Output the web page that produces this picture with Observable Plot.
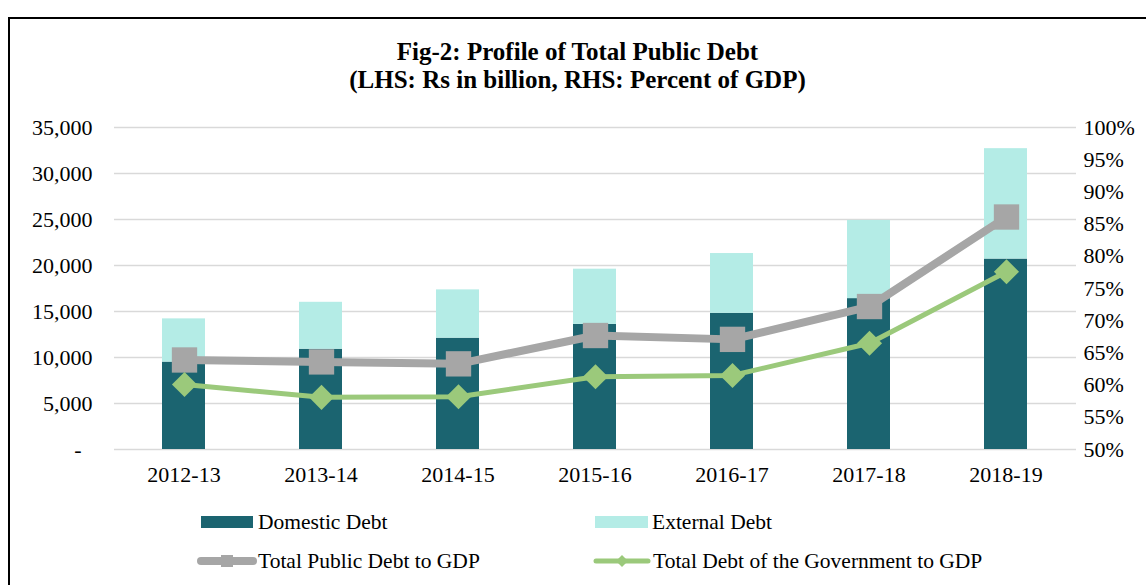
<!DOCTYPE html>
<html><head><meta charset="utf-8">
<script src="https://cdn.jsdelivr.net/npm/d3@7"></script>
<script src="https://cdn.jsdelivr.net/npm/@observablehq/plot@0.6"></script>
<style>
body{margin:0;background:#fff;}
#wrap{position:relative;width:1146px;height:585px;overflow:hidden;font-family:"Liberation Serif","Times New Roman",serif;color:#000;}
#frame{position:absolute;left:8px;top:17px;right:-10px;bottom:-10px;border-left:2px solid #000;border-top:2px solid #000;}
#title{position:absolute;left:9px;right:0;top:38px;text-align:center;font-weight:bold;font-size:25px;line-height:28px;}
.layer{position:absolute;left:0;top:0;}
.leg{position:absolute;font-size:21.5px;display:flex;align-items:center;height:30px;white-space:nowrap;}
.leg svg{display:block;}
</style></head>
<body><div id="wrap">
<div id="frame"></div>
<div id="title">Fig-2: Profile of Total Public Debt<br>(LHS: Rs in billion, RHS: Percent of GDP)</div>
<div id="p1" class="layer"></div>
<div id="p2" class="layer"></div>
<div class="leg" style="left:201px;top:507px"><svg width="52" height="12"><rect width="52" height="12" fill="#1b6470"/></svg><span style="margin-left:5px">Domestic Debt</span></div>
<div class="leg" style="left:595px;top:507px"><svg width="53" height="12"><rect width="53" height="12" fill="#b4ece6"/></svg><span style="margin-left:4px">External Debt</span></div>
<div class="leg" style="left:197px;top:546px"><svg width="60" height="14"><line x1="4" x2="56" y1="7" y2="7" stroke="#a6a6a6" stroke-width="8" stroke-linecap="round"/><rect x="24" y="1" width="12" height="12" fill="#a6a6a6"/></svg><span style="margin-left:1px">Total Public Debt to GDP</span></div>
<div class="leg" style="left:593px;top:546px"><svg width="58" height="14"><line x1="3" x2="55" y1="7" y2="7" stroke="#9bc97b" stroke-width="5" stroke-linecap="round"/><path d="M29,1L35,7L29,13L23,7Z" fill="#9bc97b"/></svg><span style="margin-left:2px">Total Debt of the Government to GDP</span></div>
</div>
<script>
const years = ["2012-13","2013-14","2014-15","2015-16","2016-17","2017-18","2018-19"];
const domesticDebt = [9500, 10900, 12100, 13600, 14800, 16400, 20700];
const externalDebt = [4700, 5100, 5250, 6000, 6500, 8500, 12000];
const publicDebtToGDP = [63.9, 63.6, 63.3, 67.7, 67.1, 72.2, 86.1];
const govDebtToGDP = [60.1, 58.1, 58.2, 61.3, 61.5, 66.5, 77.6];
const leftTicks = [0, 5000, 10000, 15000, 20000, 25000, 30000, 35000];
const rightTicks = [50, 55, 60, 65, 70, 75, 80, 85, 90, 95, 100];
const seriesNames = ["Domestic Debt", "External Debt"];

const rows = years.flatMap((y, i) => [
  {year: y, type: seriesNames[0], value: domesticDebt[i]},
  {year: y, type: seriesNames[1], value: externalDebt[i]}
]);
const pubRows = years.map((y, i) => ({year: y, v: publicDebtToGDP[i]}));
const govRows = years.map((y, i) => ({year: y, v: govDebtToGDP[i]}));

const common = {
  width: 1146, height: 480, marginTop: 127, marginBottom: 31, marginLeft: 114, marginRight: 70,
  style: {fontFamily: "Liberation Serif, Times New Roman, serif", fontSize: "22px", color: "#000", background: "transparent", overflow: "visible"}
};

const p1 = Plot.plot({
  ...common,
  x: {domain: years, paddingInner: 0.685, paddingOuter: 0.3425, label: null, axis: null},
  y: {domain: [0, 35000], label: null, axis: null},
  color: {domain: seriesNames, range: ["#1b6470", "#b4ece6"]},
  marks: [
    Plot.gridY(leftTicks, {stroke: "#d9d9d9", strokeOpacity: 1, strokeWidth: 1.5}),
    Plot.barY(rows, {x: "year", y: "value", fill: "type"}),
    Plot.axisY(leftTicks, {anchor: "left", tickSize: 0, tickPadding: 22, label: null,
      tickFormat: d => d === 0 ? "-\u2007" : d3.format(",")(d)}),
    Plot.axisX({tickSize: 0, tickPadding: 17, label: null})
  ]
});
document.getElementById("p1").append(p1);

const p2 = Plot.plot({
  ...common,
  x: {type: "point", domain: years, padding: 0.5, axis: null},
  y: {domain: [50, 100], axis: null},
  marks: [
    Plot.axisY(rightTicks, {anchor: "right", tickSize: 0, tickPadding: 7, label: null, textAnchor: "start", tickFormat: d => d + "%"}),
    Plot.line(pubRows, {x: "year", y: "v", stroke: "#a6a6a6", strokeWidth: 8}),
    Plot.dot(pubRows, {x: "year", y: "v", symbol: "square", r: 14.3, fill: "#a6a6a6", stroke: "none"}),
    Plot.line(govRows, {x: "year", y: "v", stroke: "#9bc97b", strokeWidth: 5}),
    Plot.dot(govRows, {x: "year", y: "v", symbol: "diamond2", r: 11.3, fill: "#9bc97b", stroke: "none"})
  ]
});
document.getElementById("p2").append(p2);
</script>
</body></html>
